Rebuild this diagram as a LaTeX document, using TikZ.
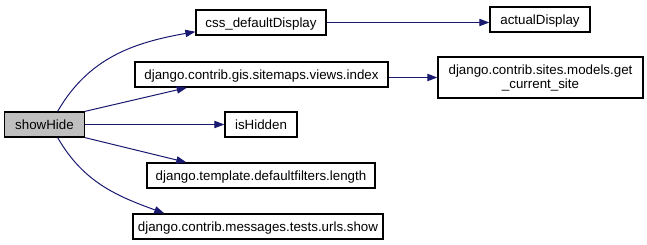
\documentclass[tikz,border=0pt]{standalone}
\usepackage{fontspec}
\setmainfont{Liberation Sans}
\usepackage{tikz}
\usetikzlibrary{positioning, arrows.meta}

\definecolor{callblue}{HTML}{191970}
\definecolor{selgrey}{HTML}{BFBFBF}

\begin{document}
\begin{tikzpicture}[x=0.75pt, y=-0.75pt]
  \tikzstyle{fn}=[draw, line width=1pt, fill=white, inner sep=0pt,
  font=\fontsize{10}{10.5}\selectfont, minimum height=18.75pt]
  \tikzstyle{func}=[fn, text height=7.2pt, text depth=0pt]
  \tikzstyle{curfunc}=[func, fill=selgrey]
  \tikzstyle{call}=[draw=callblue, line width=0.75pt,
  -{Triangle[length=7.5pt, width=5.5pt]}]

  \useasboundingbox (0,0) rectangle (647,245);

  % the function and what it calls
  \node (showHide) at (44.5,124.5) [curfunc, minimum width=60pt] {showHide};
  \node (cssDefault) at (261,22.5) [func, minimum width=97.5pt] {css\_defaultDisplay};
  \node (gisIndex) at (261.5,74.5) [func, minimum width=189.75pt] {django.contrib.gis.sitemaps.views.index};
  \node (isHidden) at (261,124.5) [func, minimum width=54pt] {isHidden};
  \node (length) at (261,175.5) [func, minimum width=171pt] {django.template.defaultfilters.length};
  \node (show) at (258,226.5) [func, minimum width=187.5pt] {django.contrib.messages.tests.urls.show};

  % second level
  \node (actualDisplay) at (540,19.5) [func, minimum width=75pt] {actualDisplay};
  \node (getSite) at (540.5,77.5) [fn, minimum width=153.75pt, minimum height=30.75pt,
  align=center] {django.contrib.sites.models.get\\\_current\_site};

  \draw [call] (showHide.45) to [out=60, in=190] (cssDefault.188);
  \draw [call] (showHide.north east) -- (gisIndex.190);
  \draw [call] (showHide) -- (isHidden);
  \draw [call] (showHide.south east) -- (length.170);
  \draw [call] (showHide.-45) to [out=-60, in=160] (show.172);

  \draw [call] (cssDefault) -- (cssDefault -| actualDisplay.west);
  \draw [call] (gisIndex.east |- getSite) -- (getSite);
\end{tikzpicture}
\end{document}
